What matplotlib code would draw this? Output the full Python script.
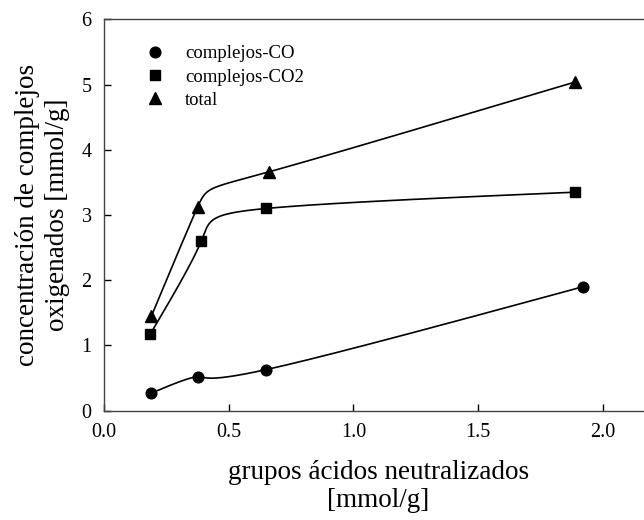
import numpy as np
import matplotlib
matplotlib.use("Agg")
import matplotlib.pyplot as plt

# datos
x_co = [0.19, 0.375, 0.65, 1.92]
y_co = [0.27, 0.52, 0.63, 1.90]
x_co2 = [0.185, 0.39, 0.65, 1.89]
y_co2 = [1.17, 2.60, 3.10, 3.35]
x_tot = [0.19, 0.375, 0.66, 1.89]
y_tot = [1.45, 3.12, 3.66, 5.04]

labels = ["complejos-CO", "complejos-CO2", "total"]
xticks = [0.0, 0.5, 1.0, 1.5, 2.0]
yticks = [0, 1, 2, 3, 4, 5, 6]


def natural_1d(t, v, ts):
    # spline cubico natural de v(t)
    v = np.asarray(v, float)
    k = len(t)
    h = np.diff(t)
    A = np.zeros((k, k))
    b = np.zeros(k)
    A[0, 0] = A[-1, -1] = 1
    for i in range(1, k - 1):
        A[i, i - 1] = h[i - 1]
        A[i, i] = 2 * (h[i - 1] + h[i])
        A[i, i + 1] = h[i]
        b[i] = 6 * ((v[i + 1] - v[i]) / h[i] - (v[i] - v[i - 1]) / h[i - 1])
    M = np.linalg.solve(A, b)
    idx = np.clip(np.searchsorted(t, ts) - 1, 0, k - 2)
    t0, t1, hh = t[idx], t[idx + 1], h[idx]
    return (M[idx] * (t1 - ts) ** 3 + M[idx + 1] * (ts - t0) ** 3) / (6 * hh) \
        + (v[idx] / hh - M[idx] * hh / 6) * (t1 - ts) \
        + (v[idx + 1] / hh - M[idx + 1] * hh / 6) * (ts - t0)


def param_spline(x, y, n=400):
    # curva parametrica (parametro uniforme por punto), solo para el trazo
    t = np.arange(len(x), dtype=float)
    ts = np.linspace(0, t[-1], n)
    return natural_1d(t, x, ts), natural_1d(t, y, ts)


plt.rcParams['font.family'] = ['Liberation Serif', 'DejaVu Serif']

fig = plt.figure(figsize=(6.44, 5.2), dpi=100)
ax = fig.add_axes([0.1615, 0.2102, 0.852, 0.7527])

series = [(x_co, y_co, 'o', 7.7), (x_co2, y_co2, 's', 7.0), (x_tot, y_tot, '^', 8.0)]
for (xs, ys, mk, ms), lab in zip(series, labels):
    sx, sy = param_spline(xs, ys)
    ax.plot(sx, sy, color='black', lw=1.2)
    ax.plot(xs, ys, linestyle='none', marker=mk, color='black',
            markersize=ms, label=lab)

ax.set_xlim(0, 2.2)
ax.set_ylim(0, 6)
ax.set_xticks(xticks)
ax.set_xticklabels([f"{v:.1f}" for v in xticks])
ax.set_yticks(yticks)
ax.tick_params(direction='in', length=5, width=1, labelsize=14.5, colors='black')
ax.tick_params(axis='x', pad=9)
ax.tick_params(axis='y', pad=9)
for side in ['left', 'bottom', 'top', 'right']:
    ax.spines[side].set_linewidth(1.0)
    ax.spines[side].set_color('#444444')

ax.set_xlabel("grupos ácidos neutralizados\n[mmol/g]", fontsize=19.5, labelpad=13,
              linespacing=1.12)
ax.set_ylabel("concentración de complejos\noxigenados [mmol/g]", fontsize=19.5,
              labelpad=8, linespacing=1.28)

ax.legend(loc='upper left', bbox_to_anchor=(0.053, 0.953), frameon=False,
          fontsize=13.5, handletextpad=0.87, labelspacing=0.33, handlelength=1.5,
          borderaxespad=0)

fig.savefig("out.png", dpi=100)
